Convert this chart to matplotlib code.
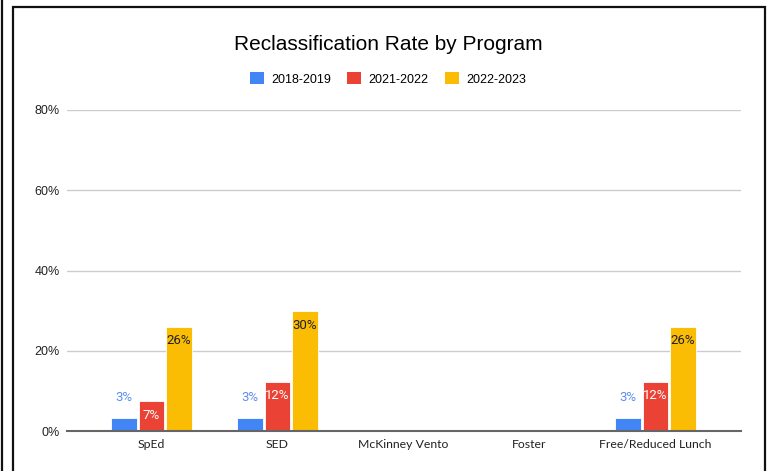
import matplotlib
matplotlib.use("Agg")
import matplotlib.pyplot as plt
from matplotlib.patches import Rectangle, Patch
from matplotlib.lines import Line2D
import numpy as np

# Data
programs = ["SpEd", "SED", "McKinney Vento", "Foster", "Free/Reduced Lunch"]
years = ["2018-2019", "2021-2022", "2022-2023"]
rate_2018_2019 = [3.3, 3.3, np.nan, np.nan, 3.3]
rate_2021_2022 = [7.4, 12.3, np.nan, np.nan, 12.3]
rate_2022_2023 = [26.0, 29.8, np.nan, np.nan, 26.0]
y_ticks = [0, 20, 40, 60, 80]

series = [rate_2018_2019, rate_2021_2022, rate_2022_2023]
colors = ["#4285F4", "#EA4335", "#FBBC04"]
label_colors = ["#5B8DEF", "white", "#202124"]

W, H = 772, 471
fig = plt.figure(figsize=(W / 100, H / 100), dpi=100)

# Axes placement in pixel terms
left, right, top, bottom = 67, 741, 110, 431
ax = fig.add_axes([left / W, (H - bottom) / H, (right - left) / W, (bottom - top) / H])

x = np.arange(len(programs))
bar_w = 0.2
offsets = [-0.218, 0.0, 0.218]

for vals, off, col, lcol, idx in zip(series, offsets, colors, label_colors, range(3)):
    vals = np.array(vals, dtype=float)
    ax.bar(x + off, np.nan_to_num(vals), width=bar_w, color=col, zorder=3,
           edgecolor="white", linewidth=0.6)
    for xi, v in zip(x + off, vals):
        if np.isnan(v):
            continue
        txt = f"{v:.0f}%"
        if idx == 0:
            ax.annotate(txt, (xi, v), xytext=(0, 10), textcoords="offset points",
                        ha="center", va="bottom", color=lcol, fontsize=9.5,
                        family="Roboto")
        else:
            ax.annotate(txt, (xi, v), xytext=(0, -5.5), textcoords="offset points",
                        ha="center", va="top", color=lcol, fontsize=9.5,
                        family="Roboto")

ax.set_xlim(-0.671, 4.679)
ax.set_ylim(0, 80)
ax.set_yticks(y_ticks)
ax.set_yticklabels([f"{t}%" for t in y_ticks], family="Liberation Sans",
                   fontsize=9, color="#222222")
ax.set_xticks(x)
ax.set_xticklabels(programs, family="Lato", fontsize=8.8, color="#222222")
ax.tick_params(axis="both", length=0)
ax.tick_params(axis="x", pad=6)
ax.tick_params(axis="y", pad=5)

ax.yaxis.grid(True, color="#CCCCCC", linewidth=1, zorder=0)
ax.set_axisbelow(True)
for s in ["top", "right", "left"]:
    ax.spines[s].set_visible(False)
ax.spines["bottom"].set_color("#666666")
ax.spines["bottom"].set_linewidth(1.5)
ax.spines["bottom"].set_zorder(4)

# Title
fig.text(388 / W, 1 - 44 / H, "Reclassification Rate by Program", ha="center",
         va="center", fontsize=15, family="Liberation Sans", color="#000000")

# Legend
handles = [Patch(facecolor=c, edgecolor="none") for c in colors]
fig.legend(handles, years, loc="center", bbox_to_anchor=(388 / W, 1 - 79 / H),
           ncol=3, frameon=False, prop={"family": "Liberation Sans", "size": 9},
           handlelength=1.1, handleheight=1.1, handletextpad=0.6,
           columnspacing=1.3, borderaxespad=0)

# Outer frame
fig.add_artist(Rectangle((13 / W, -0.05), (765 - 13) / W, 1.05 - 7 / H,
                         transform=fig.transFigure, fill=False,
                         edgecolor="#111111", linewidth=1.6))
fig.add_artist(Line2D([1.5 / W, 1.5 / W], [0, 1], transform=fig.transFigure,
                      color="#111111", linewidth=1.6))

fig.savefig("out.png", dpi=100)
